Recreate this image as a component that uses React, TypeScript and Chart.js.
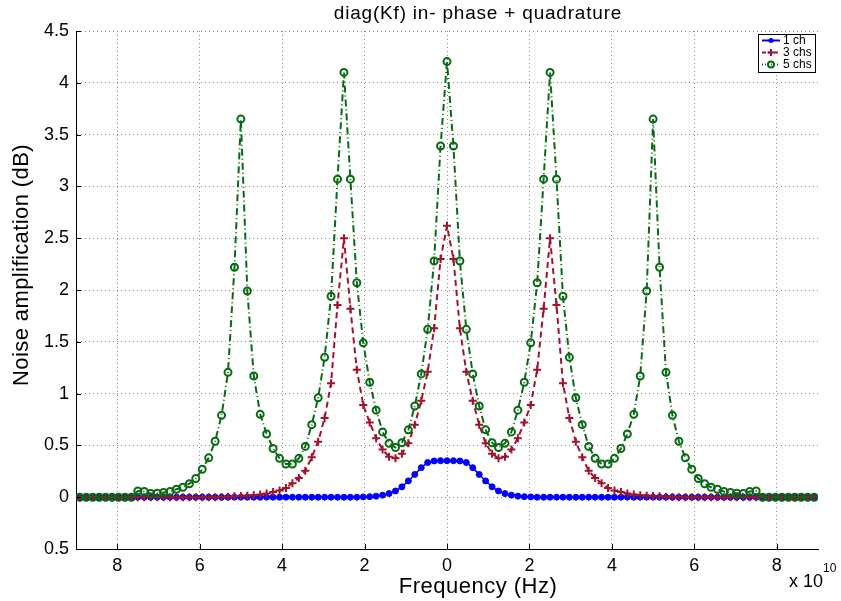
import React, { useEffect, useRef } from 'react';
import { Chart, registerables } from 'chart.js';

Chart.register(...registerables);

// Frequency in units of 1e10 Hz
const frequency = [
  -8.90625, -8.75, -8.59375, -8.4375, -8.28125, -8.125, -7.96875, -7.8125, -7.65625, -7.5,
  -7.34375, -7.1875, -7.03125, -6.875, -6.71875, -6.5625, -6.40625, -6.25, -6.09375, -5.9375,
  -5.78125, -5.625, -5.46875, -5.3125, -5.15625, -5, -4.84375, -4.6875, -4.53125, -4.375,
  -4.21875, -4.0625, -3.90625, -3.75, -3.59375, -3.4375, -3.28125, -3.125, -2.96875, -2.8125,
  -2.65625, -2.5, -2.34375, -2.1875, -2.03125, -1.875, -1.71875, -1.5625, -1.40625, -1.25,
  -1.09375, -0.9375, -0.78125, -0.625, -0.46875, -0.3125, -0.15625, 0,
  0.15625, 0.3125, 0.46875, 0.625, 0.78125, 0.9375, 1.09375, 1.25, 1.40625, 1.5625,
  1.71875, 1.875, 2.03125, 2.1875, 2.34375, 2.5, 2.65625, 2.8125, 2.96875, 3.125,
  3.28125, 3.4375, 3.59375, 3.75, 3.90625, 4.0625, 4.21875, 4.375, 4.53125, 4.6875,
  4.84375, 5, 5.15625, 5.3125, 5.46875, 5.625, 5.78125, 5.9375, 6.09375, 6.25,
  6.40625, 6.5625, 6.71875, 6.875, 7.03125, 7.1875, 7.34375, 7.5, 7.65625, 7.8125,
  7.96875, 8.125, 8.28125, 8.4375, 8.59375, 8.75, 8.90625,
];

const oneCh = [
  0, 0, 0, 0, 0, 0, 0, 0, 0, 0, 0, 0, 0, 0, 0, 0, 0, 0, 0, 0, 0, 0,
  0, 0, 0, 0, 0, 0, 0, 0, 0, 0, 0, 0, 0, 0, 0, 0, 0, 0, 0, 0, 0, 0,
  0.003, 0.005, 0.01, 0.02, 0.035, 0.06, 0.10, 0.157, 0.22, 0.285, 0.335, 0.35, 0.352,
  0.352,
  0.352, 0.35, 0.335, 0.285, 0.22, 0.157, 0.10, 0.06, 0.035, 0.02, 0.01, 0.005, 0.003,
  0, 0, 0, 0, 0, 0, 0, 0, 0, 0, 0, 0, 0, 0, 0, 0, 0, 0, 0, 0, 0, 0,
  0, 0, 0, 0, 0, 0, 0, 0, 0, 0, 0, 0, 0, 0, 0, 0, 0, 0, 0, 0, 0, 0,
];

const threeChs = [
  0, 0, 0, 0, 0, 0, 0, 0, 0, 0, 0, 0, 0, 0, 0, 0, 0, 0, 0, 0, 0, 0,
  0.003, 0.005, 0.008, 0.011, 0.015, 0.02, 0.027, 0.035, 0.05, 0.065, 0.09, 0.135,
  0.185, 0.255, 0.385, 0.535, 0.765, 1.10, 1.856, 2.50, 1.82, 1.23, 0.89, 0.72, 0.57,
  0.46, 0.39, 0.375, 0.42, 0.52, 0.70, 0.93, 1.21, 1.63, 2.30,
  2.62,
  2.30, 1.63, 1.21, 0.93, 0.70, 0.52, 0.42, 0.375, 0.39, 0.46, 0.57, 0.72, 0.89, 1.23,
  1.82, 2.50, 1.856, 1.10, 0.765, 0.535, 0.385, 0.255, 0.185, 0.135, 0.09, 0.065, 0.05,
  0.035, 0.027, 0.02, 0.015, 0.011, 0.008, 0.005, 0.003,
  0, 0, 0, 0, 0, 0, 0, 0, 0, 0, 0, 0, 0, 0, 0, 0, 0, 0, 0, 0, 0, 0,
];

const fiveChs = [
  0, 0, 0, 0, 0, 0, 0, 0, 0,
  0.06, 0.055, 0.035, 0.038, 0.045, 0.055, 0.077, 0.096, 0.13, 0.18, 0.27, 0.38, 0.54,
  0.79, 1.205, 2.22, 3.65, 1.99, 1.17, 0.80, 0.61, 0.47, 0.375, 0.32, 0.32, 0.375, 0.49,
  0.70, 0.96, 1.35, 1.94, 3.07, 4.10, 3.07, 2.07, 1.49, 1.11, 0.84, 0.63, 0.52, 0.48,
  0.526, 0.65, 0.88, 1.19, 1.62, 2.28, 3.39,
  4.205,
  3.39, 2.28, 1.62, 1.19, 0.88, 0.65, 0.526, 0.48, 0.52, 0.63, 0.84, 1.11, 1.49, 2.07,
  3.07, 4.10, 3.07, 1.94, 1.35, 0.96, 0.70, 0.49, 0.375, 0.32, 0.32, 0.375, 0.47, 0.61,
  0.80, 1.17, 1.99, 3.65, 2.22, 1.205, 0.79, 0.54, 0.38, 0.27, 0.18, 0.13, 0.096, 0.077,
  0.055, 0.045, 0.038, 0.035, 0.055, 0.06,
  0, 0, 0, 0, 0, 0, 0, 0, 0,
];

const xTickValues = [-8, -6, -4, -2, 0, 2, 4, 6, 8];
const yTickValues = [-0.5, 0, 0.5, 1, 1.5, 2, 2.5, 3, 3.5, 4, 4.5];
const seriesNames = ['1 ch', '3 chs', '5 chs'];
const titleText = 'diag(Kf) in- phase + quadrature';
const xLabel = 'Frequency (Hz)';
const yLabel = 'Noise amplification (dB)';

const BLUE = '#0000ff';
const RED = '#a0142d';
const GREEN = '#0a6a14';
const FONT = '"Liberation Sans", Arial, Helvetica, sans-serif';

const toPoints = (ys: number[]) => ys.map((y, i) => ({ x: frequency[i], y }));

const App: React.FC = () => {
  const ref = useRef<HTMLCanvasElement | null>(null);

  useEffect(() => {
    if (!ref.current) return;

    const overlay = {
      id: 'overlay',
      afterDraw(chart: any) {
        const ctx = chart.ctx as any;
        const { left, bottom } = chart.chartArea;
        const xs = chart.scales.x;
        const ys = chart.scales.y;
        ctx.save();
        // inward ticks
        ctx.strokeStyle = '#000';
        ctx.lineWidth = 1;
        ctx.setLineDash([]);
        ctx.beginPath();
        xTickValues.forEach((v) => {
          const px = Math.round(xs.getPixelForValue(v)) + 0.5;
          ctx.moveTo(px, bottom);
          ctx.lineTo(px, bottom - 5);
        });
        yTickValues.forEach((v) => {
          const py = Math.round(ys.getPixelForValue(v)) + 0.5;
          ctx.moveTo(left, py);
          ctx.lineTo(left + 5, py);
        });
        ctx.stroke();

        ctx.fillStyle = '#000';
        ctx.textAlign = 'center';
        ctx.textBaseline = 'middle';
        // title
        ctx.font = `19px ${FONT}`;
        ctx.letterSpacing = '0.8px';
        ctx.fillText(titleText, 478, 14);
        // x label
        ctx.font = `22px ${FONT}`;
        ctx.letterSpacing = '0.5px';
        ctx.fillText(xLabel, 478, 587);
        // y label
        ctx.save();
        ctx.translate(22, 265);
        ctx.rotate(-Math.PI / 2);
        ctx.letterSpacing = '0.4px';
        ctx.fillText(yLabel, 0, 0);
        ctx.restore();
        // exponent
        ctx.letterSpacing = '0px';
        ctx.textAlign = 'left';
        ctx.font = `18px ${FONT}`;
        ctx.fillText('x 10', 789, 582);
        ctx.font = `12px ${FONT}`;
        ctx.fillText('10', 823, 569);

        // legend
        const bx = 758, by = 34, bw = 57, bh = 38;
        ctx.fillStyle = '#fff';
        ctx.fillRect(bx, by, bw, bh);
        ctx.strokeStyle = '#000';
        ctx.lineWidth = 1;
        ctx.strokeRect(bx + 0.5, by + 0.5, bw, bh);
        const rows = [
          { y: 40.5, color: BLUE, dash: [] as number[], marker: 'dot' },
          { y: 52.5, color: RED, dash: [4, 2], marker: 'cross' },
          { y: 64.5, color: GREEN, dash: [1, 2], marker: 'circle' },
        ];
        rows.forEach((r, i) => {
          ctx.strokeStyle = r.color;
          ctx.lineWidth = 2;
          ctx.setLineDash(r.dash);
          ctx.beginPath();
          ctx.moveTo(762, r.y);
          ctx.lineTo(780, r.y);
          ctx.stroke();
          ctx.setLineDash([]);
          if (r.marker === 'dot') {
            ctx.fillStyle = r.color;
            ctx.beginPath();
            ctx.arc(771, r.y, 2.5, 0, Math.PI * 2);
            ctx.fill();
          } else if (r.marker === 'cross') {
            ctx.beginPath();
            ctx.moveTo(767.5, r.y);
            ctx.lineTo(774.5, r.y);
            ctx.moveTo(771, r.y - 3.5);
            ctx.lineTo(771, r.y + 3.5);
            ctx.stroke();
          } else {
            ctx.fillStyle = r.color;
            ctx.beginPath();
            ctx.arc(771, r.y, 3, 0, Math.PI * 2);
            ctx.stroke();
          }
          ctx.fillStyle = '#000';
          ctx.font = `12px ${FONT}`;
          ctx.textAlign = 'left';
          ctx.textBaseline = 'middle';
          ctx.fillText(seriesNames[i], 783, r.y);
        });
        ctx.restore();
      },
    };

    const chart = new Chart(ref.current, {
      type: 'line',
      data: {
        datasets: [
          {
            label: seriesNames[0],
            data: toPoints(oneCh),
            borderColor: BLUE,
            backgroundColor: BLUE,
            borderWidth: 1.5,
            pointStyle: 'circle',
            pointRadius: 3,
            pointBorderWidth: 1,
            order: 3,
          },
          {
            label: seriesNames[1],
            data: toPoints(threeChs),
            borderColor: RED,
            backgroundColor: RED,
            borderWidth: 2,
            borderDash: [6, 4],
            pointStyle: 'cross',
            pointRadius: 4,
            pointBorderWidth: 2,
            order: 2,
          },
          {
            label: seriesNames[2],
            data: toPoints(fiveChs),
            borderColor: GREEN,
            backgroundColor: 'rgba(255,255,255,0)',
            borderWidth: 2,
            borderDash: [7, 3, 1, 3],
            pointStyle: 'circle',
            pointRadius: 3.5,
            pointBorderWidth: 2,
            order: 1,
          },
        ],
      },
      options: {
        responsive: false,
        animation: false,
        events: [],
        layout: { padding: { top: 31, right: 23, left: 0, bottom: 0 } },
        plugins: {
          legend: { display: false },
          title: { display: false },
          tooltip: { enabled: false },
        },
        scales: {
          x: {
            type: 'linear',
            min: -9,
            max: 9,
            afterBuildTicks: (s: any) => {
              s.ticks = xTickValues.map((v) => ({ value: v }));
            },
            afterFit: (s: any) => {
              s.height = 52;
            },
            ticks: {
              autoSkip: false,
              maxRotation: 0,
              padding: 6,
              color: '#000',
              font: { family: FONT, size: 18 },
              callback: (v: any) => String(Math.abs(Number(v))),
            },
            grid: { color: '#8a8a8a', lineWidth: 1, drawTicks: false },
            border: { display: true, color: '#000', width: 1, dash: [1, 3] },
          },
          y: {
            type: 'linear',
            min: -0.5,
            max: 4.5,
            afterBuildTicks: (s: any) => {
              s.ticks = yTickValues.map((v) => ({ value: v }));
            },
            afterFit: (s: any) => {
              s.width = 76;
            },
            ticks: {
              autoSkip: false,
              padding: 7,
              color: '#000',
              font: { family: FONT, size: 18 },
              callback: (v: any) => String(Math.abs(Number(v))),
            },
            grid: { color: '#8a8a8a', lineWidth: 1, drawTicks: false },
            border: { display: true, color: '#000', width: 1, dash: [1, 3] },
          },
        },
      },
      plugins: [overlay],
    } as any);

    return () => chart.destroy();
  }, []);

  return (
    <div style={{ position: 'absolute', left: 0, top: 0, width: 841, height: 601, background: '#fff' }}>
      <canvas ref={ref} width={841} height={601} style={{ display: 'block' }} />
    </div>
  );
};

export default App;
